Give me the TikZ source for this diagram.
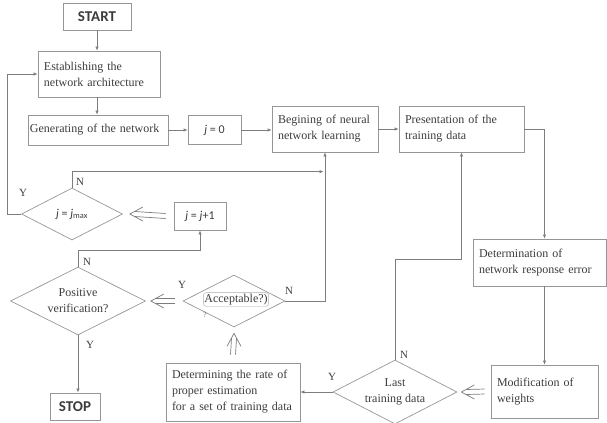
\documentclass[tikz,border=0pt]{standalone}
\usepackage{fontspec}
\setmainfont{Liberation Serif}
\newfontfamily\calfont{Carlito}
\usetikzlibrary{shapes.geometric,arrows.meta,calc}
\definecolor{lc}{RGB}{125,125,125}
\definecolor{bc}{RGB}{150,150,150}
\definecolor{tc}{RGB}{60,60,60}
\newcommand\dbllft[2]{\draw[gl] ($(#1)+(5,-2.5)$) -- ($(#2)+(0,-2.5)$) ($(#1)+(5,2.5)$) -- ($(#2)+(0,2.5)$); \draw[gl] ($(#1)+(13,-7)$) -- (#1) -- ($(#1)+(13,7)$);}
\newcommand\dblup[2]{\draw[gl] ($(#1)+(-2.5,5)$) -- ($(#2)+(-2.5,0)$) ($(#1)+(2.5,5)$) -- ($(#2)+(2.5,0)$); \draw[gl] ($(#1)+(-7,13)$) -- (#1) -- ($(#1)+(7,13)$);}
\begin{document}
\begin{tikzpicture}[x=1bp,y=-1bp,
 font=\fontsize{12bp}{16bp}\selectfont, text=tc,
 gl/.style={draw=lc, line width=0.7bp},
 arr/.style={gl, -{Latex[length=4bp,width=3.5bp]}},
 box/.style n args={3}{rectangle, draw=bc, line width=0.7bp, minimum width=#1bp, minimum height=#2bp, text width=#3bp, inner xsep=6bp, inner ysep=0bp, align=left},
 dia/.style 2 args={diamond, draw=bc, line width=0.7bp, minimum width=#1bp, minimum height=#2bp, inner sep=0bp, aspect=2, align=center},
 sbox/.style 2 args={rectangle, draw=bc, line width=0.7bp, minimum width=#1bp, minimum height=#2bp, inner sep=0bp, font=\calfont\fontsize{12bp}{14bp}\selectfont},
 term/.style 2 args={rectangle, draw=bc, line width=0.9bp, minimum width=#1bp, minimum height=#2bp, inner sep=0bp, font=\calfont\bfseries\fontsize{15bp}{18bp}\selectfont},
 lab/.style={font=\fontsize{11bp}{13bp}\selectfont, inner sep=0bp}]
\useasboundingbox (0,0) rectangle (607,422);
% nodes
\node[term={68}{27}] (start) at (97,16.5) {START};
\node[box={122}{46}{110}] (estab) at (99,74) {Establishing the\\network architecture};
\node[box={140}{30}{136}, inner xsep=2bp] (gen) at (98,130) {Generating of the network};
\node[sbox={53}{29}] (j0) at (214.5,130) {\textit{j} = 0};
\node[box={106}{46}{94}] (begin) at (325,129) {Begining of neural\\network learning};
\node[box={125}{46}{113}] (pres) at (461.5,129) {Presentation of the\\training data};
\node[box={133}{47}{121}] (det) at (539.5,262.5) {Determination of\\network response error};
\node[box={107}{53}{95}] (mod) at (544.5,391.5) {Modification of\\weights};
\node[box={134}{58}{122}] (rate) at (233,392) {Determining the rate of\\proper estimation\\for a set of training data};
\node[dia={101}{52}] (jmax) at (72,214) {\calfont\textit{j} = \textit{j}\textsubscript{max}};
\node[sbox={52}{28}] (jp1) at (200,216) {\textit{j} = \textit{j}+1};
\node[dia={135}{68}] (pos) at (78,301) {Positive\\verification?};
\node[dia={102}{52}] (accd) at (234,301) {\phantom{Acceptable?)}};
\node[draw=bc!80, line width=0.4bp, rounded corners=3bp, inner xsep=1bp, inner ysep=1.5bp] (acct) at (236,299.5) {Acceptable?)};
\node[lab, font=\fontsize{8bp}{8bp}\selectfont, text=lc] (qm) at (205,315) {?};
\node[dia={124}{64}] (last) at (395,392) {Last\\training data};
\node[term={50}{27}] (stop) at (75,406.5) {STOP};
% labels
\node[lab] (y1) at (23,193) {Y};
\node[lab] (n1) at (80,182) {N};
\node[lab] (n2) at (87,262) {N};
\node[lab] (y2) at (90,345) {Y};
\node[lab] (y3) at (182,285) {Y};
\node[lab] (n3) at (289,291) {N};
\node[lab] (n4) at (404,355) {N};
\node[lab] (y4) at (332,377) {Y};
% coordinates
\coordinate (fb) at ($(jmax.north -| begin.south)+(-1.5,-16)$);
\coordinate (tipA) at ($(jmax.east)+(7,0)$);
\coordinate (tailA) at ($(jp1.west)+(-8,0)$);
\coordinate (tipB) at ($(pos.east)+(5,0)$);
\coordinate (tailB) at ($(accd.west)+(-8,0)$);
\coordinate (tipC) at ($(accd.south)+(0,6)$);
\coordinate (tailC) at ($(rate.north)+(0,-8)$);
\coordinate (tipD) at ($(last.east)+(4,0)$);
\coordinate (tailD) at ($(mod.west)+(-6,0)$);
% connectors
\draw[arr] (start.south) -- (start.south |- estab.north);
\draw[arr] (estab.south -| start) -- (gen.north -| start);
\draw[arr] (gen.east) -- (gen.east -| j0.west);
\draw[arr] (j0.east) -- (j0.east -| begin.west);
\draw[arr] (begin.east) -- (pres.west);
\draw[arr] (pres.east) -| (mod.north |- det.north);
\draw[arr] (mod.north |- det.south) -- (mod.north);
\draw[arr] (last.west) -- (rate.east);
\draw[arr] (last.north) -- ++(0,-100) -| (pres.south);
\draw[arr] (accd.east) -| (begin.south);
\draw[arr] (jmax.north) |- (fb);
\draw[arr] (jmax.west) -- ++(-14,0) |- (estab.west);
\draw[arr] (pos.north) -- ++(0,-16) -| (jp1.south);
\draw[arr] (pos.south) -- (pos.south |- stop.north);
\dbllft{tipA}{tailA}
\dbllft{tipB}{tailB}
\dblup{tipC}{tailC}
\dbllft{tipD}{tailD}
\end{tikzpicture}
\end{document}
